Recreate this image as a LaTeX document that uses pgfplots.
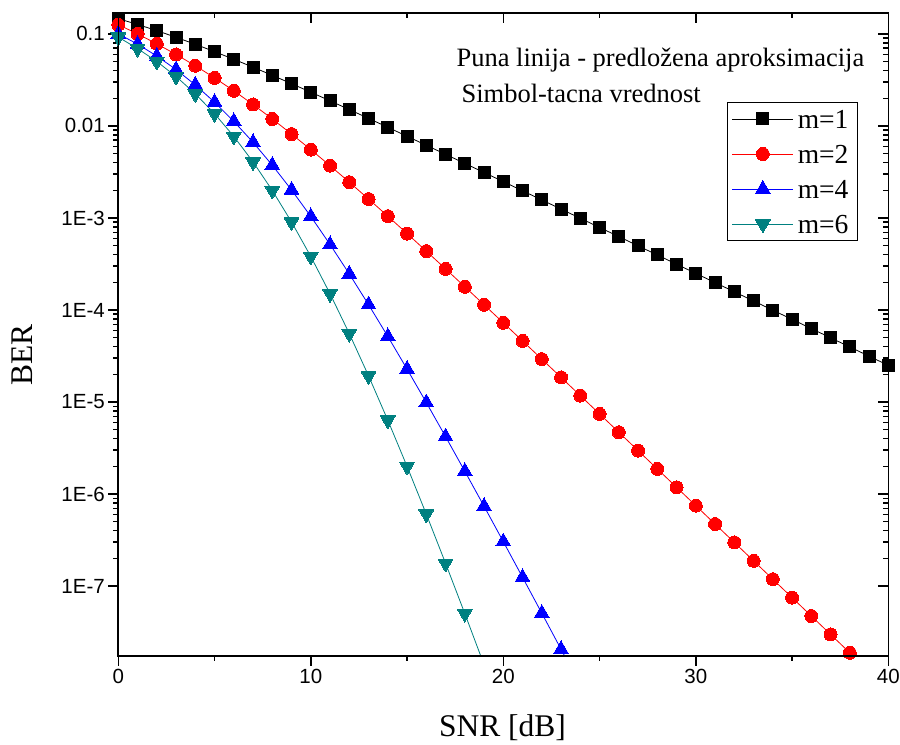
\documentclass[border=0pt]{standalone}
\usepackage{pgfplots}
\pgfplotsset{compat=1.18}
\usepackage{fontspec}
\setmainfont{Liberation Serif}
\newfontfamily\arialf{Liberation Sans}
\definecolor{tealc}{RGB}{0,128,128}
\begin{document}
\begin{tikzpicture}
\begin{axis}[name=main,
  width=770pt, height=643pt, scale only axis,
  xmin=0, xmax=40, ymode=log, ymin=1.75e-8, ymax=0.17,
  xtick={0,10,20,30,40}, minor x tick num=1,
  ytick={1e-7,1e-6,1e-5,1e-4,1e-3,1e-2,1e-1},
  major tick length=10pt, minor tick length=5pt,
  every tick/.style={black, line width=1.4pt},
  axis line style={line width=1.6pt},
  tick align=outside, xtick pos=left, ytick pos=left,
  xticklabels={0,10,20,30,40},
  yticklabels={1E-7,1E-6,1E-5,1E-4,1E-3,0.01,0.1},
  tick label style={font=\arialf\fontsize{20.5}{24}\selectfont},
  xlabel={SNR [dB]}, ylabel={BER},
  label style={font=\fontsize{31.5}{36}\selectfont},
  xlabel style={at={(axis description cs:0.499,-0.1257)}, anchor=base},
  ylabel style={at={(axis description cs:-0.1244,0.468)}, anchor=center},
  legend style={at={(rel axis cs:0.9604,0.861)}, anchor=north east,
    font=\fontsize{27.5}{30}\selectfont, draw=black, line width=0.8pt,
    row sep=12pt, inner xsep=5pt, inner ysep=5pt,
    nodes={inner xsep=4pt, inner ysep=2pt, text height=19pt, text depth=0pt}},
  legend cell align=left,
  legend image code/.code={\draw[mark repeat=2,mark phase=2] plot coordinates {(0pt,0pt) (30.5pt,0pt) (61pt,0pt)};},
]
\addplot[black, line width=0.8pt, mark=square*, mark size=6pt, mark options={solid, fill=black, line width=0pt}] coordinates {
(0,0.14645) (1,0.12673) (2,0.10848) (3,0.09191) (4,0.07714) (5,0.06418)
(6,0.05300) (7,0.04348) (8,0.03546) (9,0.02879) (10,0.02327) (11,0.018748)
(12,0.015064) (13,0.012077) (14,0.009665) (15,0.007723) (16,0.006164)
(17,0.004915) (18,0.003916) (19,0.003118) (20,0.002481) (21,0.001974)
(22,0.001570) (23,0.001248) (24,0.000992) (25,0.000789) (26,0.000627)
(27,0.000498) (28,0.000396) (29,0.0003145) (30,0.0002498) (31,0.0001985)
(32,0.0001577) (33,0.0001253) (34,9.952e-5) (35,7.905e-5) (36,6.280e-5)
(37,4.988e-5) (38,3.962e-5) (39,3.147e-5) (40,2.500e-5)};
\addlegendentry{m=1}
\addplot[red, line width=0.8pt, mark=*, mark size=6.5pt, mark options={solid, fill=red, line width=0pt}] coordinates {
(0,0.1260) (1,0.1000) (2,0.0780) (3,0.0598) (4,0.0451) (5,0.0333)
(6,0.024100) (7,0.017100) (8,0.011900) (9,0.0081608) (10,0.0055284)
(11,0.0036984) (12,0.0024480) (13,0.0016061) (14,0.0010459) (15,6.7702e-4)
(16,4.3604e-4) (17,2.7973e-4) (18,1.7884e-4) (19,1.1403e-4) (20,7.2565e-5)
(21,4.6094e-5) (22,2.9240e-5) (23,1.8528e-5) (24,1.1730e-5) (25,7.4214e-6)
(26,4.6926e-6) (27,2.9660e-6) (28,1.8739e-6) (29,1.1836e-6) (30,7.4750e-7)
(31,4.7196e-7) (32,2.9795e-7) (33,1.8808e-7) (34,1.1871e-7) (35,7.4921e-8)
(36,4.7281e-8) (37,2.9838e-8) (38,1.8829e-8)};
\addlegendentry{m=2}
\addplot[blue, line width=0.8pt, mark=triangle*, mark size=8.5pt, mark options={solid, fill=blue, line width=0pt}] coordinates {
(0,0.1000) (1,0.077500) (2,0.057500) (3,0.041000) (4,0.027900) (5,0.018100)
(6,0.011217) (7,0.0066368) (8,0.0037421) (9,0.0020143) (10,0.0010388)
(11,5.1484e-4) (12,2.4633e-4) (13,1.14255e-4) (14,5.1614e-5) (15,2.2787e-5)
(16,9.8685e-6) (17,4.2066e-6) (18,1.76973e-6) (19,7.3664e-7) (20,3.0391e-7)
(21,1.24496e-7) (22,5.0709e-8) (23,2.0558e-8) (24,8.305e-9)};
\addlegendentry{m=4}
\addplot[tealc, line width=0.8pt, mark=triangle*, mark size=8.5pt, mark options={solid, rotate=180, fill=tealc, line width=0pt}] coordinates {
(0,0.092262) (1,0.069277) (2,0.050159) (3,0.034468) (4,0.022341) (5,0.013582)
(6,0.0077052) (7,0.0040645) (8,0.0019897) (9,9.0359e-4) (10,3.8140e-4)
(11,1.50124e-4) (12,5.5356e-5) (13,1.92412e-5) (14,6.3446e-6) (15,1.99762e-6)
(16,6.0441e-7) (17,1.76825e-7) (18,5.0283e-8) (19,1.39613e-8)};
\addlegendentry{m=6}
\node[anchor=base west, font=\fontsize{26.5}{30}\selectfont] at (rel axis cs:0.4347,0.916) {Puna linija - predložena aproksimacija};
\node[anchor=base west, font=\fontsize{26.5}{30}\selectfont] at (rel axis cs:0.4412,0.860) {Simbol-tacna vrednost};
\end{axis}
\begin{axis}[
  width=770pt, height=643pt, scale only axis,
  xmin=0, xmax=40, ymode=log, ymin=1.75e-8, ymax=0.17,
  xtick={0,10,20,30,40}, minor x tick num=1,
  ytick={1e-7,1e-6,1e-5,1e-4,1e-3,1e-2,1e-1},
  major tick length=10pt, minor tick length=5pt,
  every tick/.style={black, line width=1.4pt},
  axis line style={line width=1.6pt},
  tick align=inside, xtick pos=right, ytick pos=right,
  xticklabels={}, yticklabels={}]
\end{axis}
\pgfresetboundingbox
\path ([shift={(-118.3pt,-88.3pt)}]main.south west) rectangle ([shift={(11.7pt,12.7pt)}]main.north east);
\end{tikzpicture}
\end{document}
